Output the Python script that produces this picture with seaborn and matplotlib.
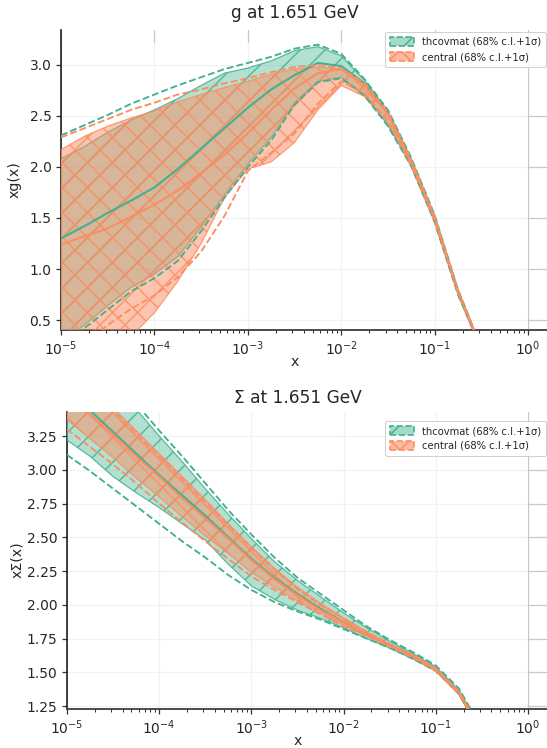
import matplotlib
matplotlib.use("Agg")
import numpy as np
import pandas as pd
import matplotlib.pyplot as plt
import seaborn as sns
from matplotlib.patches import Patch, Rectangle
from matplotlib.colors import to_rgba
from matplotlib.ticker import LogLocator, FormatStrFormatter, MultipleLocator, NullFormatter

# ---------------- data ----------------
log10_x = [-5.0, -4.75, -4.5, -4.25, -4.0, -3.75, -3.5, -3.25, -3.0, -2.75, -2.5,
           -2.25, -2.0, -1.75, -1.5, -1.25, -1.0, -0.75, -0.5, -0.25, 0.0]

# gluon, thcovmat
g_th_cen   = [1.30, 1.42, 1.55, 1.67, 1.80, 1.98, 2.18, 2.38, 2.58, 2.76, 2.90, 3.02, 2.99, 2.82, 2.53, 2.06, 1.50, 0.78, 0.22, 0.04, 0.0]
g_th_cl_hi = [2.08, 2.20, 2.34, 2.46, 2.56, 2.67, 2.80, 2.92, 2.97, 3.04, 3.14, 3.18, 3.09, 2.85, 2.55, 2.08, 1.52, 0.79, 0.22, 0.04, 0.0]
g_th_cl_lo = [0.28, 0.45, 0.64, 0.82, 0.95, 1.12, 1.41, 1.73, 2.03, 2.29, 2.63, 2.84, 2.88, 2.71, 2.41, 2.02, 1.47, 0.76, 0.21, 0.035, 0.0]
g_th_sd_hi = [2.31, 2.41, 2.51, 2.62, 2.71, 2.80, 2.88, 2.96, 3.02, 3.08, 3.16, 3.20, 3.11, 2.86, 2.56, 2.09, 1.53, 0.80, 0.23, 0.04, 0.0]
g_th_sd_lo = [0.25, 0.42, 0.60, 0.78, 0.91, 1.08, 1.37, 1.70, 2.00, 2.26, 2.61, 2.83, 2.87, 2.70, 2.40, 2.01, 1.46, 0.75, 0.21, 0.035, 0.0]
# gluon, central
g_ce_cen   = [1.24, 1.32, 1.40, 1.51, 1.63, 1.77, 1.94, 2.12, 2.33, 2.56, 2.77, 2.92, 2.96, 2.80, 2.52, 2.05, 1.50, 0.78, 0.22, 0.04, 0.0]
g_ce_cl_hi = [2.17, 2.30, 2.40, 2.48, 2.55, 2.64, 2.71, 2.78, 2.84, 2.91, 2.96, 2.98, 2.96, 2.81, 2.53, 2.06, 1.51, 0.785, 0.22, 0.04, 0.0]
g_ce_cl_lo = [-0.40, -0.15, 0.08, 0.34, 0.57, 0.88, 1.25, 1.70, 1.98, 2.05, 2.24, 2.56, 2.80, 2.69, 2.43, 2.00, 1.46, 0.75, 0.20, 0.03, 0.0]
g_ce_sd_hi = [2.29, 2.38, 2.47, 2.56, 2.63, 2.71, 2.76, 2.82, 2.87, 2.93, 2.98, 3.00, 2.97, 2.82, 2.54, 2.07, 1.52, 0.79, 0.22, 0.04, 0.0]
g_ce_sd_lo = [0.10, 0.27, 0.45, 0.61, 0.74, 0.92, 1.17, 1.52, 1.96, 2.14, 2.33, 2.62, 2.84, 2.72, 2.46, 2.02, 1.48, 0.77, 0.21, 0.035, 0.0]

# singlet, thcovmat
s_th_cen   = [3.60, 3.44, 3.28, 3.12, 2.96, 2.81, 2.66, 2.50, 2.34, 2.20, 2.08, 1.97, 1.87, 1.78, 1.70, 1.62, 1.52, 1.35, 1.05, 0.60, 0.0]
s_th_cl_hi = [4.05, 3.86, 3.66, 3.45, 3.25, 3.06, 2.86, 2.67, 2.49, 2.32, 2.18, 2.06, 1.94, 1.83, 1.73, 1.64, 1.54, 1.37, 1.07, 0.62, 0.0]
s_th_cl_lo = [3.22, 3.10, 2.95, 2.83, 2.72, 2.60, 2.48, 2.30, 2.14, 2.04, 1.96, 1.90, 1.83, 1.75, 1.68, 1.60, 1.51, 1.34, 1.04, 0.59, 0.0]
s_th_sd_hi = [4.09, 3.90, 3.70, 3.49, 3.29, 3.10, 2.90, 2.70, 2.52, 2.35, 2.20, 2.08, 1.96, 1.84, 1.74, 1.65, 1.55, 1.38, 1.08, 0.62, 0.0]
s_th_sd_lo = [3.11, 2.99, 2.86, 2.73, 2.60, 2.47, 2.35, 2.22, 2.11, 2.02, 1.95, 1.89, 1.82, 1.75, 1.68, 1.60, 1.51, 1.34, 1.04, 0.59, 0.0]
# singlet, central
s_ce_cen   = [3.56, 3.41, 3.26, 3.10, 2.95, 2.79, 2.64, 2.49, 2.33, 2.19, 2.07, 1.96, 1.87, 1.78, 1.70, 1.62, 1.52, 1.35, 1.05, 0.60, 0.0]
s_ce_cl_hi = [3.80, 3.63, 3.46, 3.29, 3.12, 2.95, 2.78, 2.60, 2.43, 2.27, 2.13, 2.01, 1.90, 1.80, 1.71, 1.63, 1.53, 1.36, 1.06, 0.61, 0.0]
s_ce_cl_lo = [3.37, 3.23, 3.09, 2.94, 2.80, 2.65, 2.51, 2.38, 2.24, 2.13, 2.03, 1.94, 1.85, 1.77, 1.69, 1.61, 1.51, 1.34, 1.04, 0.59, 0.0]
s_ce_sd_hi = [3.78, 3.61, 3.44, 3.27, 3.10, 2.93, 2.76, 2.59, 2.42, 2.26, 2.12, 2.00, 1.90, 1.80, 1.71, 1.63, 1.53, 1.36, 1.06, 0.61, 0.0]
s_ce_sd_lo = [3.30, 3.17, 3.04, 2.90, 2.75, 2.61, 2.47, 2.34, 2.21, 2.11, 2.02, 1.93, 1.84, 1.77, 1.69, 1.61, 1.51, 1.34, 1.04, 0.59, 0.0]

labels = ["thcovmat (68% c.l.+1σ)", "central (68% c.l.+1σ)"]
titles = ["g at 1.651 GeV", "Σ at 1.651 GeV"]
ylabels = ["xg(x)", "xΣ(x)"]

# ---------------- style ----------------
sns.set_style("ticks")
plt.rcParams["font.family"] = ["DejaVu Sans"]
plt.rcParams["hatch.linewidth"] = 0.7
plt.rcParams["axes.axisbelow"] = True

FILL_COLORS = ["#66c2a5", "#fc8d62"]
LINE_COLORS = ["#45b08f", "#fc8d62"]
HATCHES = ["//", "xx"]

W, H, DPI = 547, 748, 150
fig = plt.figure(figsize=(W / DPI, H / DPI), dpi=DPI)

xs = np.power(10.0, np.array(log10_x))


def px_x(p):
    return p / W


def px_y(p):
    return 1 - p / H


def make_axes(left, top, bottom, right=560):
    return fig.add_axes([px_x(left), px_y(bottom), px_x(right) - px_x(left), px_y(top) - px_y(bottom)])


def draw_panel(ax, sets, ylim, xmax, ymaj, fmt):
    ax.set_xscale("log")
    for i, (cen, clo, chi, slo, shi) in enumerate(sets):
        fc = FILL_COLORS[i]
        ax.fill_between(xs, clo, chi, facecolor=to_rgba(fc, 0.5),
                        edgecolor=to_rgba(LINE_COLORS[i], 0.85),
                        hatch=HATCHES[i], linewidth=0.6, zorder=3 + i)
    for i, (cen, clo, chi, slo, shi) in enumerate(sets):
        c = LINE_COLORS[i]
        sns.lineplot(x=xs, y=cen, ax=ax, color=c, linewidth=1.0, zorder=6 + i, legend=False)
        for arr in (slo, shi):
            sns.lineplot(x=xs, y=arr, ax=ax, color=c, linewidth=0.9, linestyle="--",
                         zorder=6 + i, legend=False)
    ax.set_xlim(1e-5, xmax)
    ax.set_ylim(*ylim)
    ax.xaxis.set_major_locator(LogLocator(base=10, numticks=10))
    ax.xaxis.set_minor_locator(LogLocator(base=10, subs=np.arange(2, 10), numticks=20))
    ax.xaxis.set_minor_formatter(NullFormatter())
    ax.yaxis.set_major_locator(MultipleLocator(ymaj))
    ax.yaxis.set_major_formatter(FormatStrFormatter(fmt))
    ax.grid(True, which="major", color="#c8c8c8", linewidth=0.6)
    ax.tick_params(axis="both", which="major", labelsize=6.7, length=2.6, width=0.6,
                   color="#333333", pad=2)
    ax.tick_params(axis="x", which="minor", length=1.5, width=0.5, color="#333333")
    for s in ("top", "right"):
        ax.spines[s].set_visible(False)
    ax.spines["left"].set_color("#222222")
    ax.spines["left"].set_linewidth(0.8)
    ax.spines["bottom"].set_color("#444444")
    ax.spines["bottom"].set_linewidth(0.9)
    ax.set_xlabel("")
    ax.set_ylabel("")


# top panel
ax1 = make_axes(61, 30, 330)
draw_panel(ax1,
           [(g_th_cen, g_th_cl_lo, g_th_cl_hi, g_th_sd_lo, g_th_sd_hi),
            (g_ce_cen, g_ce_cl_lo, g_ce_cl_hi, g_ce_sd_lo, g_ce_sd_hi)],
           ylim=(0.402, 3.343), xmax=10 ** (-5 + (560 - 61) / 93.4), ymaj=0.5, fmt="%.1f")
ax1.add_artist(Rectangle((px_x(62), px_y(330)), px_x(528) - px_x(62), px_y(43) - px_y(330),
                         transform=fig.transFigure, facecolor="white", alpha=0.78,
                         edgecolor="none", zorder=1, clip_on=False))

# bottom panel
ax2 = make_axes(67, 412, 709)
draw_panel(ax2,
           [(s_th_cen, s_th_cl_lo, s_th_cl_hi, s_th_sd_lo, s_th_sd_hi),
            (s_ce_cen, s_ce_cl_lo, s_ce_cl_hi, s_ce_sd_lo, s_ce_sd_hi)],
           ylim=(1.228, 3.428), xmax=10 ** (-5 + (560 - 67) / 92.2), ymaj=0.25, fmt="%.2f")
ax2.add_artist(Rectangle((px_x(68), px_y(709)), px_x(528) - px_x(68), px_y(412) - px_y(709),
                         transform=fig.transFigure, facecolor="white", alpha=0.78,
                         edgecolor="none", zorder=1, clip_on=False))

# titles and labels
fig.text(px_x(295), px_y(13), titles[0], ha="center", va="center", fontsize=8.2)
fig.text(px_x(298), px_y(398), titles[1], ha="center", va="center", fontsize=8.2)
fig.text(px_x(295), px_y(362), "x", ha="center", va="center", fontsize=6.8)
fig.text(px_x(298), px_y(741), "x", ha="center", va="center", fontsize=6.8)
fig.text(px_x(15), px_y(180), ylabels[0], ha="center", va="center", rotation=90, fontsize=6.8)
fig.text(px_x(17), px_y(560), ylabels[1], ha="center", va="center", rotation=90, fontsize=6.8)

# legends
for ax, top in ((ax1, 32), (ax2, 421)):
    handles = [Patch(facecolor=to_rgba(FILL_COLORS[i], 0.6), edgecolor=LINE_COLORS[i],
                     hatch=HATCHES[i], linestyle="--", linewidth=0.8) for i in range(2)]
    leg = ax.legend(handles, labels, loc="upper right",
                    bbox_to_anchor=(px_x(546), px_y(top)), bbox_transform=fig.transFigure,
                    fontsize=4.8, frameon=True, fancybox=True, framealpha=0.9,
                    handlelength=2.4, handleheight=0.9, borderpad=0.5, labelspacing=0.5,
                    handletextpad=0.8, borderaxespad=0.0)
    leg.get_frame().set_linewidth(0.5)
    leg.get_frame().set_edgecolor("#cccccc")
    leg.set_zorder(20)

fig.savefig("out.png", dpi=DPI)
